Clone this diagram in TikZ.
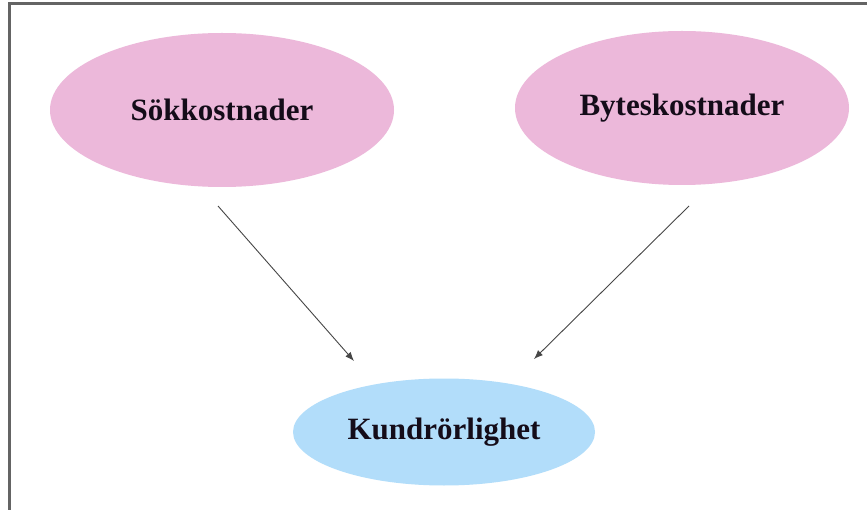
\documentclass[tikz,border=0pt]{standalone}
\usepackage{fontspec}
\setmainfont{Liberation Serif}
\usetikzlibrary{shapes.geometric,arrows.meta}
\definecolor{pinkfill}{RGB}{236,184,218}
\definecolor{bluefill}{RGB}{178,221,250}
\definecolor{framegray}{RGB}{100,100,100}
\definecolor{arrowgray}{RGB}{70,70,70}
\definecolor{textdark}{RGB}{20,12,25}
\tikzset{
  oval/.style={ellipse, draw=none, inner sep=0pt, font=\fontsize{31}{35}\selectfont\bfseries, text=textdark},
  conn/.style={draw=arrowgray, line width=0.9pt, -{Latex[length=9pt,width=7pt]}}
}
\begin{document}
\begin{tikzpicture}[x=1pt,y=-1pt]
\useasboundingbox (0,0) rectangle (867,510);
\fill[white] (0,0) rectangle (867,510);
\draw[framegray, line width=3pt] (9,512) -- (9,4) -- (869,4);
\node[oval, fill=pinkfill, minimum width=344pt, minimum height=154pt] (sok) at (222,110) {Sökkostnader};
\node[oval, fill=pinkfill, minimum width=334pt, minimum height=154pt] (byt) at (682,108) {Byteskostnader};
\node[oval, fill=bluefill, minimum width=302pt, minimum height=107pt] (kund) at (444,432) {Kundrörlighet};
\coordinate (a1) at (218,206);
\coordinate (a2) at (354,361);
\coordinate (b1) at (689,206);
\coordinate (b2) at (534,359);
\draw[conn] (a1) -- (a2);
\draw[conn] (b1) -- (b2);
\end{tikzpicture}
\end{document}
